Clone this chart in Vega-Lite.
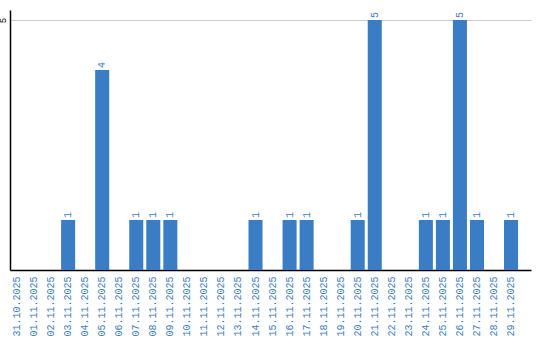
{
  "$schema": "https://vega.github.io/schema/vega-lite/v6.json",
  "autosize": "none",
  "width": 521,
  "height": 260,
  "padding": {"left": 10, "top": 10, "right": 9, "bottom": 70},
  "background": "white",
  "config": {"view": {"stroke": null}},
  "data": {"values": [
    {"d": "31.10.2025", "v": 0}, {"d": "01.11.2025", "v": 0}, {"d": "02.11.2025", "v": 0},
    {"d": "03.11.2025", "v": 1}, {"d": "04.11.2025", "v": 0}, {"d": "05.11.2025", "v": 4},
    {"d": "06.11.2025", "v": 0}, {"d": "07.11.2025", "v": 1}, {"d": "08.11.2025", "v": 1},
    {"d": "09.11.2025", "v": 1}, {"d": "10.11.2025", "v": 0}, {"d": "11.11.2025", "v": 0},
    {"d": "12.11.2025", "v": 0}, {"d": "13.11.2025", "v": 0}, {"d": "14.11.2025", "v": 1},
    {"d": "15.11.2025", "v": 0}, {"d": "16.11.2025", "v": 1}, {"d": "17.11.2025", "v": 1},
    {"d": "18.11.2025", "v": 0}, {"d": "19.11.2025", "v": 0}, {"d": "20.11.2025", "v": 1},
    {"d": "21.11.2025", "v": 5}, {"d": "22.11.2025", "v": 0}, {"d": "23.11.2025", "v": 0},
    {"d": "24.11.2025", "v": 1}, {"d": "25.11.2025", "v": 1}, {"d": "26.11.2025", "v": 5},
    {"d": "27.11.2025", "v": 1}, {"d": "28.11.2025", "v": 0}, {"d": "29.11.2025", "v": 1}
  ]},
  "encoding": {
    "x": {
      "field": "d", "type": "nominal", "sort": null, "title": null,
      "scale": {"paddingInner": 0.176, "paddingOuter": 0.38, "align": 0},
      "axis": {
        "labelAngle": -90, "labelAlign": "right", "labelBaseline": "middle",
        "labelColor": "#3a7dc4", "labelFont": "Liberation Mono", "labelFontSize": 10,
        "labelPadding": 6, "ticks": false, "domainColor": "#000000", "domainWidth": 1.5,
        "grid": false, "labelOverlap": false
      }
    },
    "y": {
      "field": "v", "type": "quantitative", "title": null,
      "scale": {"domain": [0, 5.2], "nice": false},
      "axis": {
        "values": [5], "labelAngle": -90, "labelAlign": "center", "labelBaseline": "bottom",
        "labelColor": "#000000", "labelFont": "Liberation Mono", "labelFontSize": 9,
        "labelPadding": 3, "ticks": false, "domainColor": "#000000", "domainWidth": 1.5,
        "grid": true, "gridColor": "#cccccc", "gridWidth": 1
      }
    }
  },
  "layer": [
    {"mark": {"type": "bar", "color": "#3b7dc4"}},
    {
      "transform": [{"filter": "datum.v > 0"}],
      "mark": {"type": "text", "angle": -90, "align": "left", "baseline": "middle", "dx": 2,
               "color": "#3a7dc4", "font": "Liberation Mono", "fontSize": 10},
      "encoding": {"text": {"field": "v", "type": "quantitative"}}
    }
  ]
}
